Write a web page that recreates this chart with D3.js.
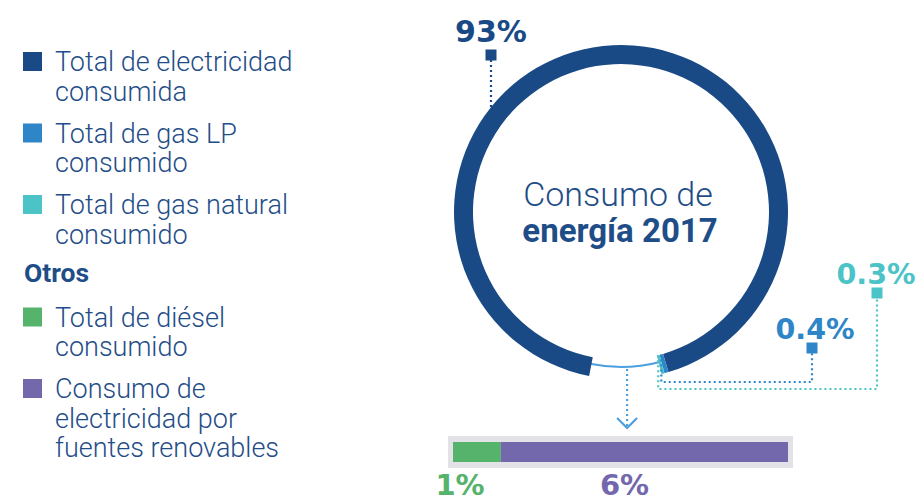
<!DOCTYPE html>
<html lang="es">
<head>
<meta charset="utf-8">
<script src="https://cdn.jsdelivr.net/npm/d3@7"></script>
<style>
  html, body { margin: 0; padding: 0; background: #fff; }
  svg { display: block; }
  text { font-family: Roboto, "Noto Sans", sans-serif; }
  .pct { font-family: "DejaVu Sans", Verdana, sans-serif; }
</style>
</head>
<body>
<svg id="chart" width="921" height="502"></svg>
<script>
// Ring: main energy sources, plus the share grouped as "Otros"
const ringKeys   = ["electricidad", "gasLP", "gasNatural", "otros"];
const ringValues = [93, 0.4, 0.3, 7];
const ringLabels = ["93%", "0.4%", "0.3%", null];

// Breakdown of "Otros"
const otrosKeys   = ["diesel", "renovables"];
const otrosValues = [1, 6];
const otrosLabels = ["1%", "6%"];

// Legend entries
const legendItems = [
  { key: "electricidad", lines: ["Total de electricidad", "consumida"] },
  { key: "gasLP",        lines: ["Total de gas LP", "consumido"] },
  { key: "gasNatural",   lines: ["Total de gas natural", "consumido"] },
  { heading: "Otros" },
  { key: "diesel",       lines: ["Total de diésel", "consumido"] },
  { key: "renovables",   lines: ["Consumo de", "electricidad por", "fuentes renovables"] }
];
const centerTitle = ["Consumo de", "energía 2017"];

const color = d3.scaleOrdinal()
  .domain(["electricidad", "gasLP", "gasNatural", "diesel", "renovables", "otros"])
  .range(["#1a4a85", "#2e86c8", "#4bc3c7", "#55b36c", "#7468ad", "#4ca0df"]);

const textColor = "#1f4d88";
const svg = d3.select("#chart");

// ---------- Legend ----------
const legend = svg.append("g");
let y = 71;
legendItems.forEach((item, i) => {
  if (item.heading) {
    y -= 4;
    legend.append("text")
      .attr("x", 24).attr("y", y)
      .attr("fill", textColor)
      .attr("font-size", 26.5).attr("font-weight", 700)
      .text(item.heading);
    y += 45;
    return;
  }
  legend.append("rect")
    .attr("x", 23).attr("y", y - 19)
    .attr("width", 19).attr("height", 19)
    .attr("fill", color(item.key));
  item.lines.forEach((ln, j) => {
    legend.append("text")
      .attr("x", 55).attr("y", y + j * 29.5)
      .attr("fill", textColor)
      .attr("font-size", 27).attr("font-weight", 300)
      .text(ln);
  });
  y += (item.lines.length - 1) * 29.5 + 42;
});

// ---------- Ring ----------
const cx = 621, cy = 212;
const rOuter = 167, rInner = 148, rThin = 155;
const deg = Math.PI / 180;
const start = 191 * deg;

const pie = d3.pie().sort(null).value(d => d.v)
  .startAngle(start).endAngle(start + 2 * Math.PI);
const arcs = pie(ringKeys.map((k, i) => ({ k, v: ringValues[i], label: ringLabels[i] })));
const arc = d3.arc().innerRadius(rInner).outerRadius(rOuter);
const byKey = Object.fromEntries(arcs.map(a => [a.data.k, a]));

const ring = svg.append("g").attr("transform", `translate(${cx},${cy})`);
const guides = svg.append("g");
const ptAt = (angle, r) => [cx + r * Math.sin(angle), cy - r * Math.cos(angle)];
const mid = a => (a.startAngle + a.endAngle) / 2;

function dotted(g, pts, col) {
  g.append("path")
    .attr("d", d3.line()(pts))
    .attr("fill", "none")
    .attr("stroke", col)
    .attr("stroke-width", 2.2)
    .attr("stroke-dasharray", "2,3");
}

// Centred percentage label
function pctLabel(g, xc, yb, txt, col, size, weight) {
  g.append("text").attr("class", "pct")
    .attr("x", xc).attr("y", yb)
    .attr("text-anchor", "middle")
    .attr("font-size", size).attr("font-weight", weight)
    .attr("fill", col)
    .text(txt);
}

// Callouts for the small ring segments
const callouts = [
  { key: "gasLP",      elbowY: 382, markX: 812, markY: 348, labelY: 339, labelX: 815 },
  { key: "gasNatural", elbowY: 389, markX: 877, markY: 293, labelY: 284, labelX: 876 }
];
callouts.forEach(c => {
  const a = byKey[c.key];
  const [x0, y0] = ptAt(mid(a), rInner);
  const col = color(c.key);
  dotted(guides, [[x0, y0], [x0, c.elbowY], [c.markX, c.elbowY], [c.markX, c.markY + 5]], col);
  guides.append("rect")
    .attr("x", c.markX - 5.5).attr("y", c.markY - 5.5)
    .attr("width", 11).attr("height", 11).attr("fill", col);
  pctLabel(guides, c.labelX, c.labelY, a.data.label, col, 28.5, 700);
});

// Callout for the main segment
{
  const a = byKey.electricidad;
  const mx = 491, my = 55;
  const yRing = cy - Math.sqrt(rOuter * rOuter - (mx - cx) * (mx - cx));
  dotted(guides, [[mx, my + 5], [mx, yRing + 4]], color("electricidad"));
  guides.append("rect")
    .attr("x", mx - 5.5).attr("y", my - 5.5)
    .attr("width", 11).attr("height", 11).attr("fill", color("electricidad"));
  pctLabel(guides, mx, 42, a.data.label, color("electricidad"), 30, 700);
}

// Thin arc across the "Otros" gap and the arrow down to the breakdown bar
const otros = byKey.otros;
ring.append("path")
  .attr("d", d3.arc().innerRadius(rThin).outerRadius(rThin)
    .startAngle(otros.startAngle - 0.01).endAngle(otros.endAngle + 0.01)())
  .attr("fill", "none")
  .attr("stroke", color("otros"))
  .attr("stroke-width", 2);

const [ax, ay] = ptAt(mid(otros), rThin);
dotted(guides, [[ax + 2, ay + 2], [ax + 2, 426]], color("otros"));
guides.append("path")
  .attr("d", d3.line()([[ax - 8, 418], [ax + 2, 428], [ax + 12, 418]]))
  .attr("fill", "none")
  .attr("stroke", color("otros"))
  .attr("stroke-width", 2.2);

ring.selectAll("path.seg")
  .data(arcs.filter(a => a.data.k !== "otros"))
  .join("path")
  .attr("class", "seg")
  .attr("d", arc)
  .attr("fill", d => color(d.data.k));

// Center title
svg.append("text")
  .attr("x", cx - 3).attr("y", 206)
  .attr("text-anchor", "middle")
  .attr("font-size", 34).attr("font-weight", 300)
  .attr("fill", textColor)
  .text(centerTitle[0]);
svg.append("text")
  .attr("x", cx - 1).attr("y", 242)
  .attr("text-anchor", "middle")
  .attr("font-size", 33).attr("font-weight", 700)
  .attr("fill", textColor)
  .text(centerTitle[1]);

// ---------- "Otros" breakdown bar ----------
const total = d3.sum(otrosValues);
const x = d3.scaleLinear().domain([0, total]).range([453, 788]);
const barY = 442, barH = 20;
svg.append("rect")
  .attr("x", x(0) - 5).attr("y", barY - 6)
  .attr("width", x(total) - x(0) + 10).attr("height", barH + 12)
  .attr("fill", "#e2e2e7");

const stack = d3.cumsum(otrosValues);
const segs = otrosKeys.map((k, i) => ({ k, v0: stack[i] - otrosValues[i], v1: stack[i], label: otrosLabels[i] }));
svg.selectAll("rect.bar")
  .data(segs)
  .join("rect")
  .attr("class", "bar")
  .attr("x", d => x(d.v0)).attr("y", barY)
  .attr("width", d => x(d.v1) - x(d.v0)).attr("height", barH)
  .attr("fill", d => color(d.k));

const labelX = [x(0) + 7, (x(0) + x(total)) / 2 + 4];
const barLabels = svg.append("g");
segs.forEach((d, i) => pctLabel(barLabels, labelX[i], 495, d.label, color(d.k), 29, 700));
</script>
</body>
</html>
